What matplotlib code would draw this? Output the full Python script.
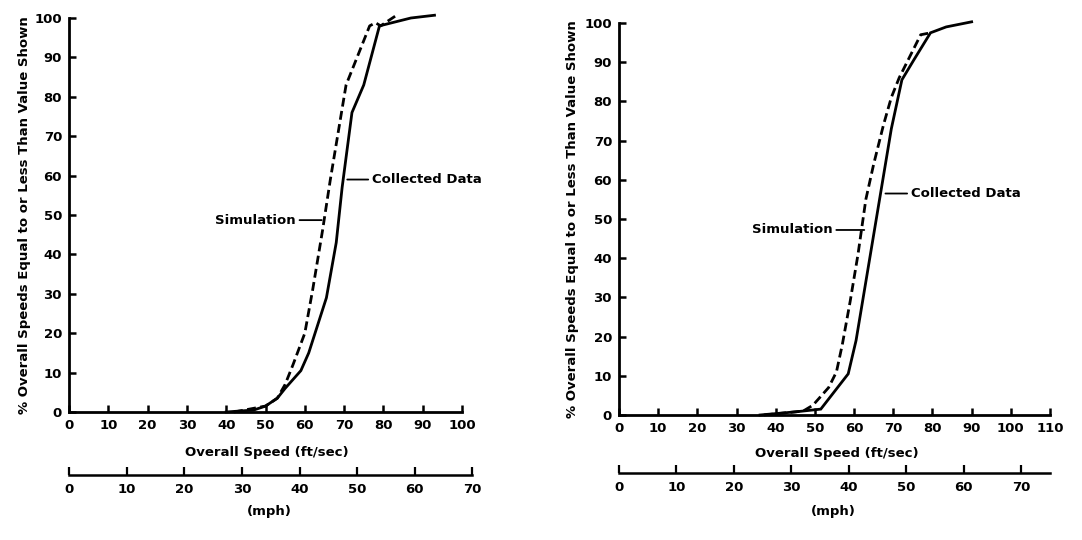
import matplotlib
matplotlib.use("Agg")
import matplotlib.pyplot as plt

# conversion ft/sec per mph
FPS_PER_MPH = 5280.0 / 3600.0

# left panel, values (ft/sec, cumulative %)
left_collected_x = [40, 47, 50, 53, 55, 59, 61, 65.5, 68, 69.5, 72, 75, 79, 81, 87, 93]
left_collected_y = [0, 0.5, 1.5, 3.5, 6, 10.5, 15, 29, 43, 57, 76, 83, 98, 98.5, 100, 100.7]
left_sim_x = [42, 50, 53, 55, 57, 60, 62, 64.5, 66.5, 68.5, 70.5, 72.5, 74.5, 76.5, 78, 79.3, 83.5]
left_sim_y = [0, 1.5, 3.5, 7, 12, 20, 31, 46, 59, 71, 83, 88, 93, 98, 98.8, 98, 100.8]

# right panel
right_collected_x = [36, 45, 51.5, 58.5, 60.5, 64, 67, 69.5, 72.2, 75.2, 79.5, 83.5, 90]
right_collected_y = [0, 0.8, 1.5, 10.5, 19, 40, 58, 73, 85.5, 90.5, 97.5, 99, 100.3]
right_sim_x = [37, 47, 49.5, 53.5, 55.5, 57, 59, 61, 63, 65, 67.5, 69.5, 71.5, 74, 77, 79.5]
right_sim_y = [0, 1, 2.5, 7, 11, 18, 29, 41, 55, 64, 74, 81, 86, 91, 97, 97.5]

fps_ticks_left = list(range(0, 101, 10))
fps_ticks_right = list(range(0, 111, 10))
pct_ticks = list(range(0, 101, 10))
mph_ticks = list(range(0, 71, 10))

W, H = 1082.0, 540.0
plt.rcParams["font.family"] = "DejaVu Sans"
plt.rcParams["font.weight"] = "bold"

fig = plt.figure(figsize=(W / 100, H / 100), dpi=100)


def px_axes(x0, y_top, x1, y_bot):
    return fig.add_axes([x0 / W, 1 - y_bot / H, (x1 - x0) / W, (y_bot - y_top) / H])


def style_main(ax, xmax, xticks):
    ax.set_xlim(0, xmax)
    ax.set_ylim(0, 100)
    ax.set_xticks(xticks)
    ax.set_yticks(pct_ticks)
    for s in ("top", "right"):
        ax.spines[s].set_visible(False)
    for s in ("left", "bottom"):
        ax.spines[s].set_linewidth(2)
    ax.tick_params(direction="in", length=5, width=1.8, labelsize=9.5, pad=5)
    ax.patch.set_visible(False)


def draw_mph(x0, y, xmax_mph, px_per_fps):
    x1 = x0 + xmax_mph * FPS_PER_MPH * px_per_fps
    m = px_axes(x0, y - 20, x1, y)
    m.set_xlim(0, xmax_mph)
    m.set_yticks([])
    for s in ("top", "right", "left"):
        m.spines[s].set_visible(False)
    m.spines["bottom"].set_linewidth(1.8)
    m.set_xticks(mph_ticks)
    m.tick_params(direction="in", length=6, width=1.6, labelsize=9.5, pad=6)
    m.patch.set_visible(False)
    m.set_xlabel("(mph)", fontsize=9.5, fontweight="bold")
    return m


panels = [
    dict(box=(69, 18, 462, 412), xmax=100, xticks=fps_ticks_left,
         cx=left_collected_x, cy=left_collected_y, sx=left_sim_x, sy=left_sim_y,
         mph_y=475, mph_max=70, ylab_x=-0.097, xlab=(0.504, -0.086), mph_lab=(0.496, -1.5),
         c_xy=(70.8, 59), c_txt=(77.2, 59), s_xy=(64.3, 48.7), s_txt=(57.6, 48.7)),
    dict(box=(619, 23, 1050, 415), xmax=110, xticks=fps_ticks_right,
         cx=right_collected_x, cy=right_collected_y, sx=right_sim_x, sy=right_sim_y,
         mph_y=473, mph_max=75, ylab_x=-0.093, xlab=(0.506, -0.082), mph_lab=(0.497, -1.6),
         c_xy=(68.0, 56.5), c_txt=(74.6, 56.5), s_xy=(62.6, 47.2), s_txt=(54.4, 47.2)),
]

for p in panels:
    x0, yt, x1, yb = p["box"]
    ax = px_axes(x0, yt, x1, yb)
    style_main(ax, p["xmax"], p["xticks"])
    ax.plot(p["cx"], p["cy"], color="black", lw=2.0, clip_on=False, solid_joinstyle="miter")
    ax.plot(p["sx"], p["sy"], color="black", lw=2.0, clip_on=False, dashes=(3.2, 1.6))
    ax.set_ylabel("% Overall Speeds Equal to or Less Than Value Shown", fontsize=9.5,
                  fontweight="bold")
    ax.yaxis.set_label_coords(p["ylab_x"], 0.5)
    ax.set_xlabel("Overall Speed (ft/sec)", fontsize=9.5, fontweight="bold")
    ax.xaxis.set_label_coords(*p["xlab"])
    arrow = dict(arrowstyle="-", color="black", lw=1.3, shrinkA=1, shrinkB=0)
    ax.annotate("Collected Data", xy=p["c_xy"], xytext=p["c_txt"], ha="left", va="center",
                fontsize=9.5, fontweight="bold", arrowprops=arrow)
    ax.annotate("Simulation", xy=p["s_xy"], xytext=p["s_txt"], ha="right", va="center",
                fontsize=9.5, fontweight="bold", arrowprops=arrow)

    # second scale in mph under the ft/sec axis
    px_per_fps = (x1 - x0) / p["xmax"]
    m = draw_mph(x0, p["mph_y"], p["mph_max"], px_per_fps)
    m.xaxis.set_label_coords(*p["mph_lab"])

fig.savefig("out.png", dpi=100)
